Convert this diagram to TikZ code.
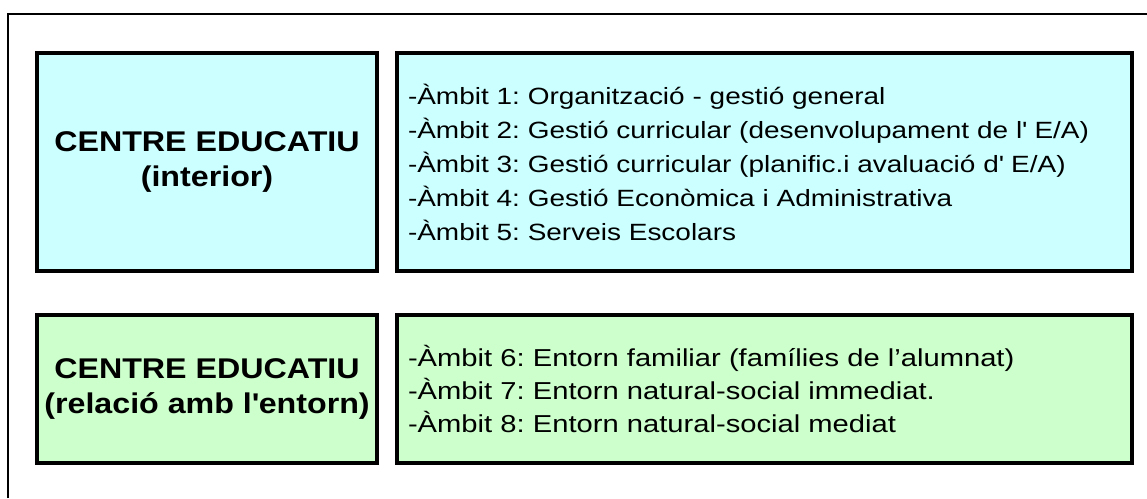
\documentclass[tikz,border=0pt]{standalone}
\usepackage{fontspec}
\setmainfont[FakeStretch=1.19]{Liberation Sans}
\newfontfamily\headfont[FakeStretch=1.13]{Liberation Sans}
\usetikzlibrary{positioning}

\definecolor{intbg}{HTML}{CCFFFF}
\definecolor{entbg}{HTML}{CCFFCC}

\begin{document}
\frenchspacing
\begin{tikzpicture} [x=1pt, y=-1pt,
  box/.style={draw=black, line width=4pt, inner sep=0pt, minimum height=#1},
  headbox/.style={box=#1, minimum width=340pt, align=center, font=\headfont\bfseries\fontsize{28.5}{35}\selectfont},
  listbox/.style={box=#1, text width=713pt, inner xsep=11pt, align=left}]
\useasboundingbox (0,0) rectangle (1147,498);
\draw[black, line width=2pt] (8.3,498) -- (8.3,13.7) -- (1147,13.7);

\node[headbox=218pt, fill=intbg] (cenInt) at (207,162) {CENTRE EDUCATIU\\(interior)};
\node[listbox=218pt, fill=intbg, font=\fontsize{23.5}{34}\selectfont] (ambInt) at (764.5,162)
  {-Àmbit 1: Organització - gestió general\\
   -Àmbit 2: Gestió curricular (desenvolupament de l\textquotesingle{} E/A)\\
   -Àmbit 3: Gestió curricular (planific.i avaluació d\textquotesingle{} E/A)\\
   -Àmbit 4: Gestió Econòmica i Administrativa\\
   -Àmbit 5: Serveis Escolars};

\node[headbox=148pt, fill=entbg] (cenEnt) at (207,388.5) {CENTRE EDUCATIU\\(relació amb l\textquotesingle{}entorn)};
\node[listbox=148pt, fill=entbg, font=\fontsize{24.5}{33}\selectfont] (ambEnt) at (764.5,388.5)
  {-Àmbit 6: Entorn familiar (famílies de l’alumnat)\\
   -Àmbit 7: Entorn natural-social immediat.\\
   -Àmbit 8: Entorn natural-social mediat};

\end{tikzpicture}
\end{document}
